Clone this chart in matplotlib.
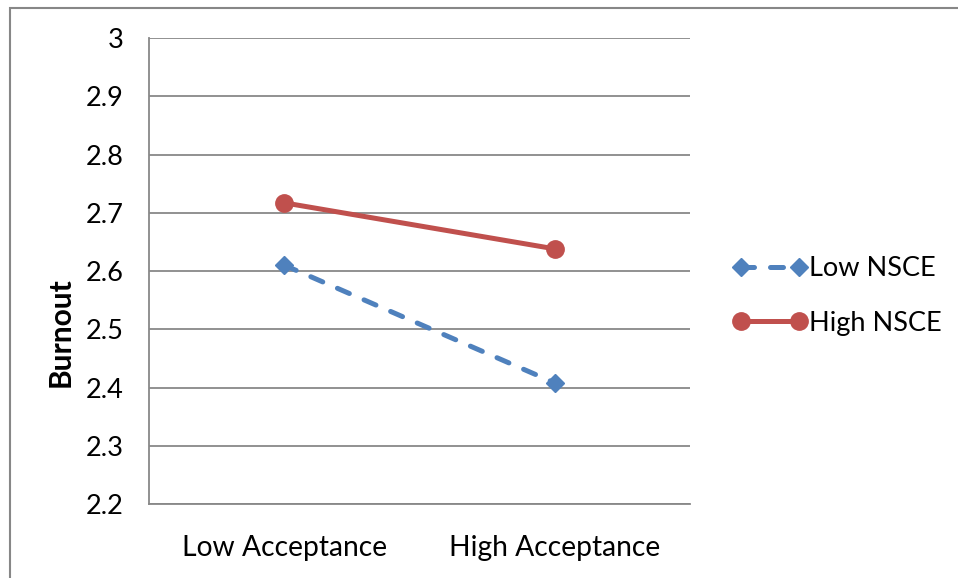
import matplotlib
matplotlib.use("Agg")
import matplotlib.pyplot as plt
from matplotlib.patches import Rectangle

categories = ["Low Acceptance", "High Acceptance"]
low_nsce = [2.610, 2.408]
high_nsce = [2.717, 2.638]
yticks = [2.2, 2.3, 2.4, 2.5, 2.6, 2.7, 2.8, 2.9, 3.0]
ytick_labels = ["2.2", "2.3", "2.4", "2.5", "2.6", "2.7", "2.8", "2.9", "3"]

plt.rcParams['font.family'] = ['Lato', 'DejaVu Sans']

fig = plt.figure(figsize=(9.58, 5.78), dpi=100)
fig.patch.set_facecolor('white')
fig.patches.append(Rectangle((10/958, -0.05), 1.2, 1 - 8/578 + 0.05,
                             transform=fig.transFigure, fill=False,
                             edgecolor='#878787', linewidth=1.5))

ax = fig.add_axes([149/958, 1 - 504/578, (690 - 149)/958, (504 - 38)/578])
x = list(range(len(categories)))

grid_c = '#888888'
ax.set_ylim(2.2, 3.0)
ax.set_xlim(-0.5, 1.5)
ax.set_yticks(yticks)
ax.set_yticklabels(ytick_labels)
ax.set_xticks(x)
ax.set_xticklabels(categories)
ax.yaxis.grid(True, color=grid_c, linewidth=1.3)
ax.set_axisbelow(True)
for s in ['top', 'right']:
    ax.spines[s].set_visible(False)
ax.spines['left'].set_color(grid_c)
ax.spines['bottom'].set_color(grid_c)
ax.spines['left'].set_linewidth(1.3)
ax.spines['bottom'].set_linewidth(1.3)
ax.tick_params(axis='both', length=0, labelsize=19.5)
ax.tick_params(axis='x', labelsize=20.3, pad=22)
ax.tick_params(axis='y', pad=18)

blue = '#4F81BD'
red = '#C0504D'
l1, = ax.plot(x, low_nsce, color=blue, linewidth=3.6, marker='D', markersize=9,
              dashes=(2.6, 3.2), dash_capstyle='round', label='Low NSCE', clip_on=False)
l2, = ax.plot(x, high_nsce, color=red, linewidth=3.6, marker='o', markersize=12.5,
              label='High NSCE', clip_on=False)

ax.set_ylabel('Burnout', fontsize=21.5, fontweight='bold')
ax.yaxis.set_label_coords(-0.137, 0.369)

leg = fig.legend(handles=[l1, l2], loc='center left',
                 bbox_to_anchor=(722/958, 1 - 296/578), frameon=False,
                 fontsize=19.5, handlelength=2.75, handletextpad=0.05,
                 labelspacing=1.1, borderaxespad=0, numpoints=2)

fig.savefig('out.png', dpi=100, facecolor='white')
